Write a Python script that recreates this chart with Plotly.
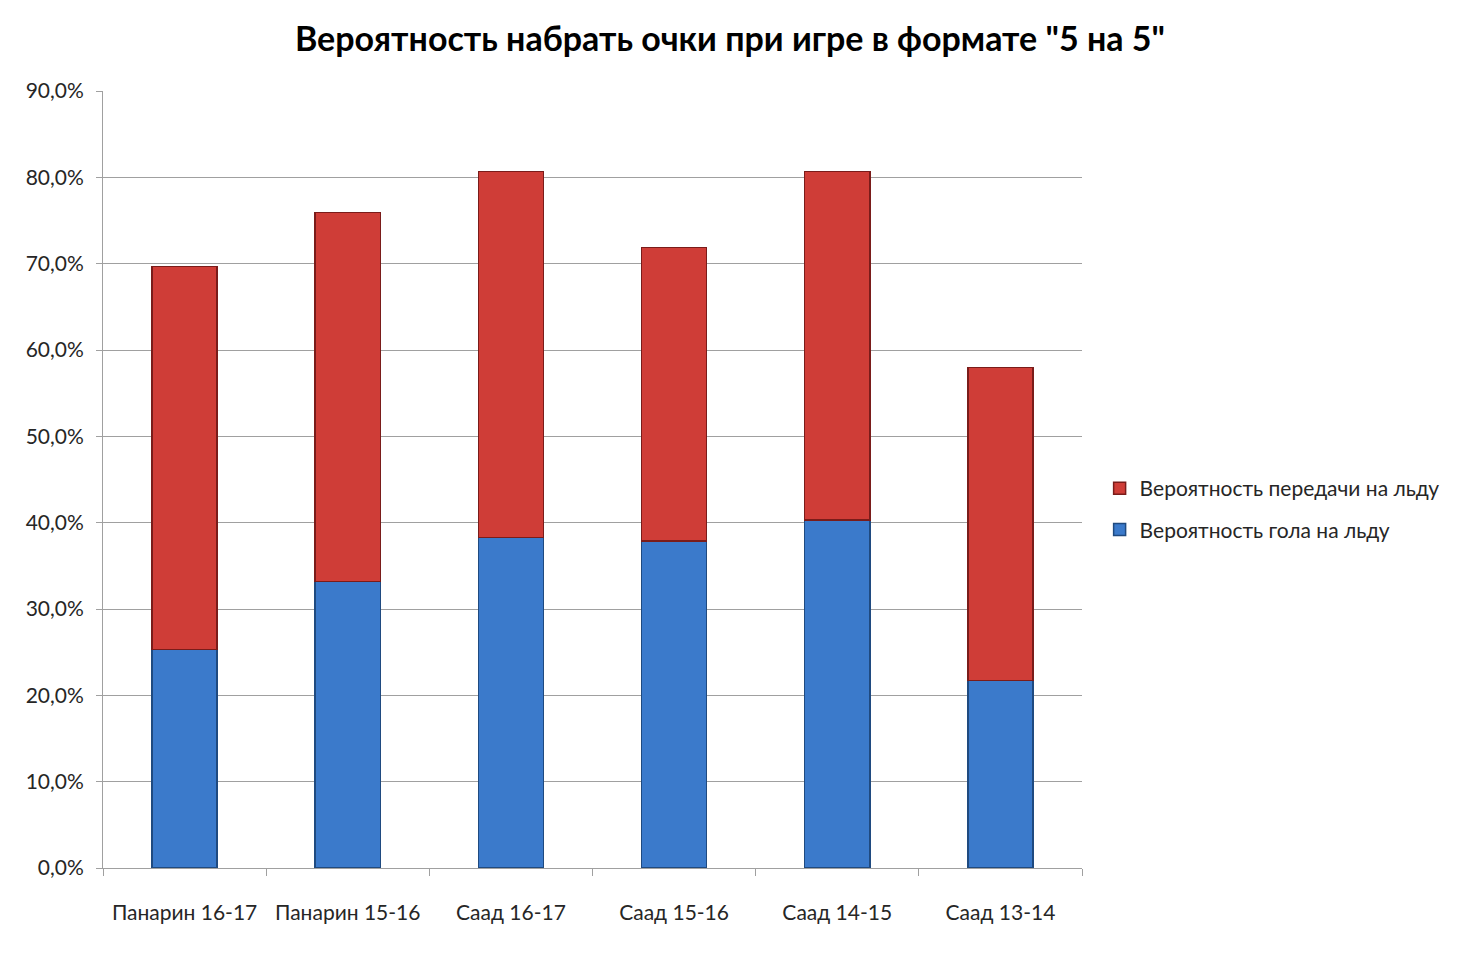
import plotly.graph_objects as go

categories = ["Панарин 16-17", "Панарин 15-16", "Саад 16-17", "Саад 15-16", "Саад 14-15", "Саад 13-14"]
goal_prob = [0.253, 0.332, 0.383, 0.379, 0.403, 0.217]
assist_prob = [0.444, 0.427, 0.424, 0.340, 0.404, 0.363]

fig = go.Figure()
fig.add_trace(go.Bar(
    x=categories, y=goal_prob, name="Вероятность гола на льду",
    legendgroup="g", legendrank=2,
    marker=dict(color="#3b7acb", line=dict(color="#1f4a80", width=1.5)),
    width=0.4,
))
fig.add_trace(go.Bar(
    x=categories, y=assist_prob, name="Вероятность передачи на льду",
    legendgroup="a", legendrank=1,
    marker=dict(color="#cf3d37", line=dict(color="#7a1c1a", width=1.5)),
    width=0.4,
))

fig.update_layout(
    barmode="stack",
    width=1460, height=953,
    paper_bgcolor="white", plot_bgcolor="white",
    margin=dict(l=95, r=386, t=83, b=93),
    separators=", ",
    font=dict(family="Lato, Open Sans, DejaVu Sans, sans-serif", size=21, color="#262626"),
    title=dict(text="<b>Вероятность набрать очки при игре в формате \"5 на 5\"</b>",
               x=0.4945, xref="container", xanchor="center", y=0.967, yanchor="middle",
               font=dict(size=34, color="#000")),
    legend=dict(x=1.018, y=0.462, xanchor="left", yanchor="middle",
                traceorder="grouped", font=dict(size=21),
                itemwidth=30, tracegroupgap=11),
    bargap=0.6,
)
fig.update_yaxes(
    range=[0, 0.9], dtick=0.1, tickformat=".1%",
    showgrid=True, gridcolor="#a0a0a0", gridwidth=1,
    showline=True, linecolor="#a0a0a0", linewidth=1,
    ticks="outside", ticklen=6, tickcolor="#a0a0a0",
    ticklabelstandoff=8,
    zeroline=False,
)
fig.update_xaxes(
    showline=True, linecolor="#a0a0a0", linewidth=1,
    ticks="outside", ticklen=7, tickcolor="#a0a0a0",
    tickson="boundaries", ticklabelstandoff=26,
)

fig.write_html("out.html")
